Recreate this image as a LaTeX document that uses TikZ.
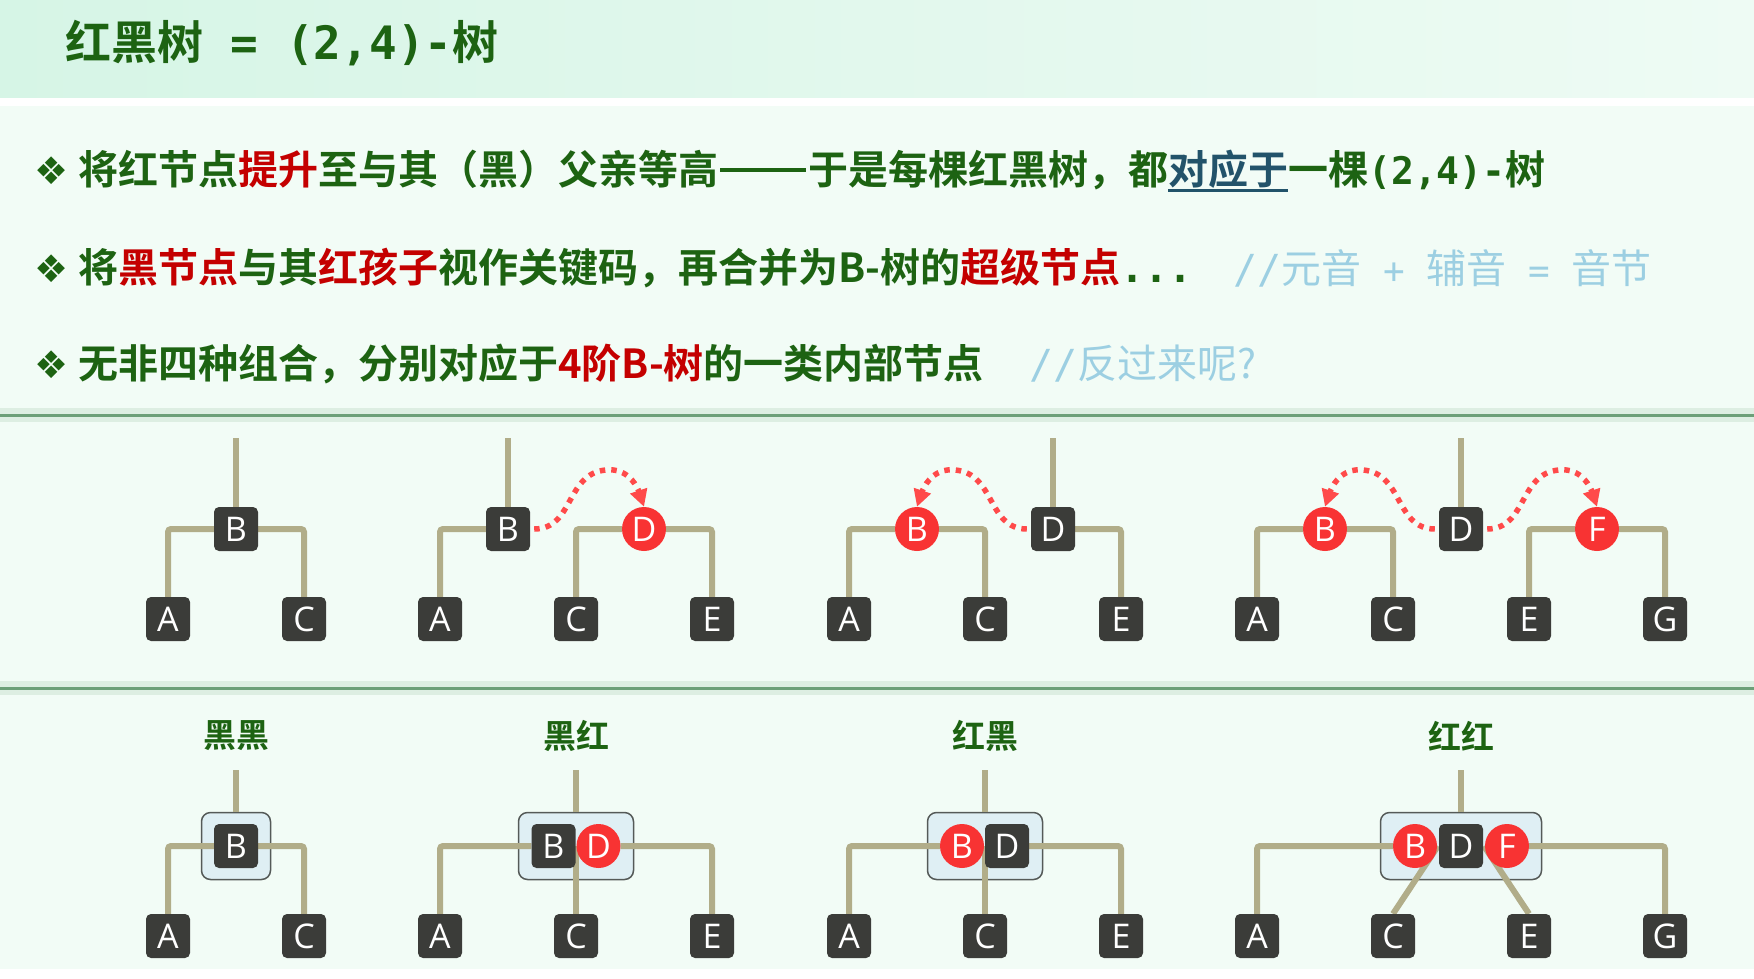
\documentclass[tikz,border=0pt]{standalone}
\usepackage{fontspec}
\setmainfont{Noto Sans CJK SC}[BoldFont={Noto Sans CJK SC Bold}]
\newfontfamily\monofont{DejaVu Sans Mono}
\newfontfamily\symfont{DejaVu Sans}
\newfontfamily\keyfont{Open Sans}
\usetikzlibrary{arrows.meta,calc,backgrounds}

\definecolor{txtgreen}{HTML}{1D6312}
\definecolor{hotred}{HTML}{C40000}
\definecolor{tealtxt}{HTML}{22536A}
\definecolor{remarkblue}{HTML}{9CCFE2}
\definecolor{hdrleft}{HTML}{D6F5E6}
\definecolor{hdrright}{HTML}{EEFBF4}
\definecolor{bodybg}{HTML}{F2FCF6}
\definecolor{sepgreen}{HTML}{6C9F78}
\definecolor{sepglow}{HTML}{DDEEE2}
\definecolor{branchkhaki}{HTML}{B1AD89}
\definecolor{keyblack}{HTML}{3B3C39}
\definecolor{keyred}{HTML}{F83333}
\definecolor{hopred}{HTML}{FF4A4A}
\definecolor{boxblue}{HTML}{DFEFF4}
\definecolor{boxedge}{HTML}{555A58}

\newcommand\hot[1]{\textcolor{hotred}{#1}}
\newcommand\ulinetext[1]{\setbox0\hbox{#1}\textcolor{tealtxt}{\rlap{\raisebox{-7pt}{\rule{\wd0}{3pt}}}\box0}}
\newcommand\bigdash{\hspace{2pt}\rule[13pt]{86pt}{3.5pt}\hspace{2pt}}
\newcommand\diamondmark{{\symfont\fontsize{38pt}{38pt}\selectfont ❖}\hspace{10pt}}

\begin{document}
\begin{tikzpicture}[x=1pt,y=1pt,yscale=-1,
  branch/.style={draw=branchkhaki,line width=6pt,rounded corners=3pt},
  blacknode/.style={fill=keyblack,rounded corners=5pt,minimum size=44pt,inner sep=0pt,text=white,font=\keyfont\fontsize{34pt}{34pt}\selectfont},
  rednode/.style={circle,fill=keyred,minimum size=44pt,inner sep=0pt,text=white,font=\keyfont\fontsize{34pt}{34pt}\selectfont},
  superbox/.style={fill=boxblue,draw=boxedge,line width=1.5pt,rounded corners=9pt,minimum height=67pt,inner sep=0pt},
  hop/.style={draw=hopred,line width=5.5pt,dash pattern=on 5.5pt off 6pt,shorten <=4pt,-{Triangle[length=17pt,width=17pt]}},
  bullettext/.style={anchor=west,inner sep=0pt,text=txtgreen,font=\fontsize{40pt}{48pt}\selectfont\bfseries},
  remark/.style={anchor=west,inner sep=0pt,text=remarkblue,font=\fontsize{40pt}{48pt}\selectfont},
  grouptag/.style={inner sep=0pt,text=txtgreen,font=\fontsize{33pt}{38pt}\selectfont\bfseries}]
\useasboundingbox (0,0) rectangle (1754,978);

% Text Node
\node[anchor=west,inner sep=0pt,text=txtgreen,font=\fontsize{46pt}{54pt}\selectfont\bfseries] (title) at (65,43) {红黑树{\monofont\bfseries\ = (2,4)-}树};
% Text Node
\node[bullettext] (line1) at (34,171) {\diamondmark 将红节点\hot{提升}至与其（黑）父亲等高\bigdash 于是每棵红黑树，都\ulinetext{对应于}一棵{\monofont\bfseries\fontsize{38pt}{38pt}\selectfont(2,4)-}树};
% Text Node
\node[bullettext] (line2) at (34,268) {\diamondmark 将\hot{黑节点}与其\hot{红孩子}视作关键码，再合并为B-树的\hot{超级节点}{\monofont\bfseries ...}};
% Text Node
\node[remark] (note2) at (1233,268) {{\monofont //}元音{\monofont\fontsize{36pt}{36pt}\selectfont\ +\ }辅音{\monofont\fontsize{36pt}{36pt}\selectfont\ =\ }音节};
% Text Node
\node[bullettext] (line3) at (34,364) {\diamondmark 无非四种组合，分别对应于\hot{4阶B-树}的一类内部节点};
% Text Node
\node[remark] (note3) at (1029,364) {{\monofont //}反过来呢?};

% Text Node
\node[grouptag] (tag1) at (236,736) {黑黑};
% Text Node
\node[grouptag] (tag2) at (576,736) {黑红};
% Text Node
\node[grouptag] (tag3) at (985,736) {红黑};
% Text Node
\node[grouptag] (tag4) at (1461,736) {红红};

% upper row
\node[blacknode] (ub1) at (236,529) {B};
\node[blacknode] (ua1) at (168,619) {A};
\node[blacknode] (uc1) at (304,619) {C};
\coordinate (ut1) at (236,438);

\node[blacknode] (ub2) at (508,529) {B};
\node[rednode] (ud2) at (644,529) {D};
\node[blacknode] (ua2) at (440,619) {A};
\node[blacknode] (uc2) at (576,619) {C};
\node[blacknode] (ue2) at (712,619) {E};
\coordinate (ut2) at (508,438);

\node[rednode] (ub3) at (917,529) {B};
\node[blacknode] (ud3) at (1053,529) {D};
\node[blacknode] (ua3) at (849,619) {A};
\node[blacknode] (uc3) at (985,619) {C};
\node[blacknode] (ue3) at (1121,619) {E};
\coordinate (ut3) at (1053,438);

\node[rednode] (ub4) at (1325,529) {B};
\node[blacknode] (ud4) at (1461,529) {D};
\node[rednode] (uf4) at (1597,529) {F};
\node[blacknode] (ua4) at (1257,619) {A};
\node[blacknode] (uc4) at (1393,619) {C};
\node[blacknode] (ue4) at (1529,619) {E};
\node[blacknode] (ug4) at (1665,619) {G};
\coordinate (ut4) at (1461,438);

% lower row
\node[blacknode] (lb1) at (236,846) {B};
\node[blacknode] (la1) at (168,936) {A};
\node[blacknode] (lc1) at (304,936) {C};
\coordinate (lt1) at (236,770);

\node[blacknode] (lb2) at (553.5,846) {B};
\node[rednode] (ld2) at (598.5,846) {D};
\node[blacknode] (la2) at (440,936) {A};
\node[blacknode] (lc2) at (576,936) {C};
\node[blacknode] (le2) at (712,936) {E};
\coordinate (lt2) at (576,770);

\node[rednode] (lb3) at (962,846) {B};
\node[blacknode] (ld3) at (1007,846) {D};
\node[blacknode] (la3) at (849,936) {A};
\node[blacknode] (lc3) at (985,936) {C};
\node[blacknode] (le3) at (1121,936) {E};
\coordinate (lt3) at (985,770);

\node[rednode] (lb4) at (1415,846) {B};
\node[blacknode] (ld4) at (1461,846) {D};
\node[rednode] (lf4) at (1507,846) {F};
\node[blacknode] (la4) at (1257,936) {A};
\node[blacknode] (lc4) at (1393,936) {C};
\node[blacknode] (le4) at (1529,936) {E};
\node[blacknode] (lg4) at (1665,936) {G};
\coordinate (lt4) at (1461,770);

\begin{scope}[on background layer]
% Background
\fill[white] (0,0) rectangle (1754,978);
\fill[bodybg] (0,106) rectangle (1754,969);
\shade[left color=hdrleft,right color=hdrright] (0,0) rectangle (1754,97);
\draw[sepglow,line width=14pt] (0,415) -- (1754,415);
\draw[sepgreen,line width=3pt] (0,415) -- (1754,415);
\draw[sepglow,line width=14pt] (0,688) -- (1754,688);
\draw[sepgreen,line width=3pt] (0,688) -- (1754,688);

% Box
\node[superbox,minimum width=69pt] (lx1) at (236,846) {};
\node[superbox,minimum width=115pt] (lx2) at (576,846) {};
\node[superbox,minimum width=115pt] (lx3) at (985,846) {};
\node[superbox,minimum width=161pt] (lx4) at (1461,846) {};

% Connection
\draw[branch] (ut1) -- (ub1.north);
\draw[branch] (ub1.west) -| (ua1.north);
\draw[branch] (ub1.east) -| (uc1.north);
% Connection
\draw[branch] (ut2) -- (ub2.north);
\draw[branch] (ub2.west) -| (ua2.north);
\draw[branch] (ud2.west) -| (uc2.north);
\draw[branch] (ud2.east) -| (ue2.north);
% Connection
\draw[branch] (ut3) -- (ud3.north);
\draw[branch] (ub3.west) -| (ua3.north);
\draw[branch] (ub3.east) -| (uc3.north);
\draw[branch] (ud3.east) -| (ue3.north);
% Connection
\draw[branch] (ut4) -- (ud4.north);
\draw[branch] (ub4.west) -| (ua4.north);
\draw[branch] (ub4.east) -| (uc4.north);
\draw[branch] (uf4.west) -| (ue4.north);
\draw[branch] (uf4.east) -| (ug4.north);

% Connection
\draw[branch] (lt1) -- (lx1.north);
\draw[branch] (lb1.west) -| (la1.north);
\draw[branch] (lb1.east) -| (lc1.north);
% Connection
\draw[branch] (lt2) -- (lx2.north);
\draw[branch] (lb2.west) -| (la2.north);
\draw[branch] (lc2.north) -- (lc2 |- lx2.center);
\draw[branch] (ld2.east) -| (le2.north);
% Connection
\draw[branch] (lt3) -- (lx3.north);
\draw[branch] (lb3.west) -| (la3.north);
\draw[branch] (lc3.north) -- (lc3 |- lx3.center);
\draw[branch] (ld3.east) -| (le3.north);
% Connection
\draw[branch] (lt4) -- (lx4.north);
\draw[branch] (lb4.west) -| (la4.north);
\draw[branch] (lc4.north) -- ($(lb4)!0.5!(ld4)$);
\draw[branch] (le4.north) -- ($(ld4)!0.5!(lf4)$);
\draw[branch] (lf4.east) -| (lg4.north);
\end{scope}

% Connection
\draw[hop] (ub2.east) .. controls +(45,0) and +(-45,0) .. ($(ud2.north)+(-34,-37)$) .. controls +(20,0) and +(-6,-18) .. (ud2.north);
% Connection
\draw[hop] (ud3.west) .. controls +(-45,0) and +(45,0) .. ($(ub3.north)+(34,-37)$) .. controls +(-20,0) and +(6,-18) .. (ub3.north);
% Connection
\draw[hop] (ud4.west) .. controls +(-45,0) and +(45,0) .. ($(ub4.north)+(34,-37)$) .. controls +(-20,0) and +(6,-18) .. (ub4.north);
% Connection
\draw[hop] (ud4.east) .. controls +(45,0) and +(-45,0) .. ($(uf4.north)+(-34,-37)$) .. controls +(20,0) and +(-6,-18) .. (uf4.north);

\end{tikzpicture}
\end{document}
